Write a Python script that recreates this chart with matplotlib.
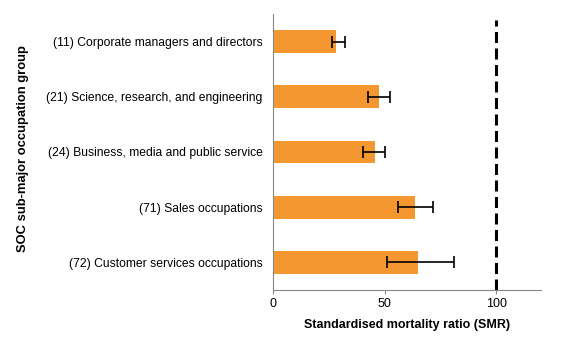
import matplotlib.pyplot as plt

plt.rcParams['font.family'] = ['Liberation Sans', 'DejaVu Sans']

# =========================
# DATA
# =========================
groups = [
    "(11) Corporate managers and directors",
    "(21) Science, research, and engineering",
    "(24) Business, media and public service",
    "(71) Sales occupations",
    "(72) Customer services occupations",
]
smr = [28.4, 47.3, 45.5, 63.5, 64.9]
lower = [26.4, 42.5, 40.2, 56.0, 51.2]
upper = [32.1, 52.4, 50.1, 71.5, 81.2]

xerr = [[s - l for s, l in zip(smr, lower)],
        [u - s for s, u in zip(smr, upper)]]

# =========================
# PLOT
# =========================
fig = plt.figure(figsize=(5.63, 3.47), dpi=100)
ax = fig.add_axes([0.485, 0.164, 0.476, 0.796])

ypos = list(range(len(groups)))
ax.barh(ypos, smr, height=0.41, color="#F59731", xerr=xerr,
        error_kw=dict(ecolor="black", elinewidth=1.2, capsize=4, capthick=1.2))
# reference line at SMR = 100
ax.axvline(100, ymin=0, ymax=0.978, color="black", lw=2.2, ls=(0, (3.6, 1.8)))

ax.set_yticks(ypos)
ax.set_yticklabels(groups, fontsize=8.7)
ax.set_ylim(len(groups) - 0.5, -0.5)
ax.set_xlim(0, 120)
ax.set_xticks([0, 50, 100])
ax.tick_params(axis="x", labelsize=9, length=3, color="#888888", pad=3)
ax.tick_params(axis="y", length=0, pad=7.5)

for side in ["top", "right"]:
    ax.spines[side].set_visible(False)
for side in ["left", "bottom"]:
    ax.spines[side].set_color("#888888")

ax.set_xlabel("Standardised mortality ratio (SMR)", fontsize=9, fontweight="bold", labelpad=6)
fig.text(0.041, 0.573, "SOC sub-major occupation group", rotation=90,
         fontsize=9.4, fontweight="bold", ha="center", va="center")

fig.savefig("out.png", dpi=100)
